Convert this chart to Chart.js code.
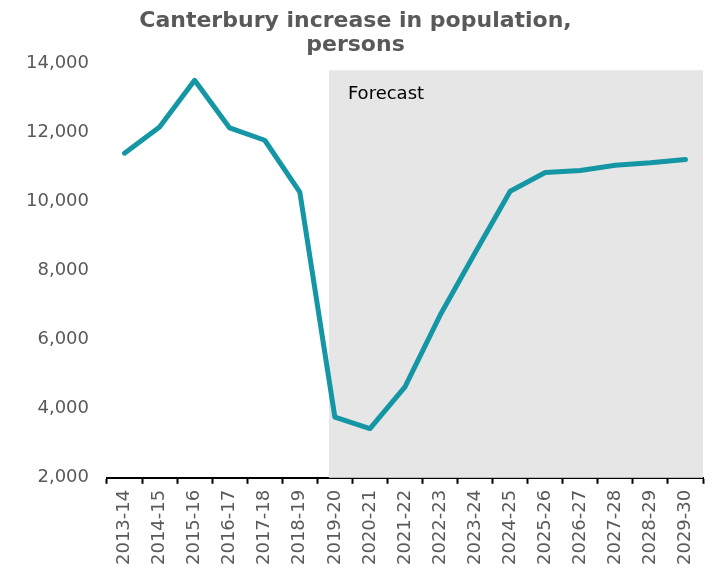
<!DOCTYPE html>
<html lang="en">

<head>
    <meta charset="UTF-8">
    <script src="https://cdn.jsdelivr.net/npm/chart.js"></script>
    <title>Canterbury population</title>
    <style>
        html, body { margin: 0; padding: 0; background: #fff; }
        #box { width: 717px; height: 571px; }
    </style>
</head>

<body>
    <div id="box"><canvas id="myChart"></canvas></div>
</body>

<script>
    // anos (categorias) e valores da serie
    const anos = ['2013-14', '2014-15', '2015-16', '2016-17', '2017-18', '2018-19', '2019-20', '2020-21',
        '2021-22', '2022-23', '2023-24', '2024-25', '2025-26', '2026-27', '2027-28', '2028-29', '2029-30'];
    const aumento = [11400, 12160, 13510, 12130, 11775, 10270, 3760, 3425,
        4630, 6705, 8515, 10300, 10840, 10900, 11050, 11120, 11215];
    const inicioPrevisao = '2019-20';
    const topoPrevisao = 13800;
    const eixoY = { min: 2000, max: 14000, passo: 2000 };

    const fonte = 'DejaVu Sans, Verdana, sans-serif';

    // faixa cinza "Forecast"
    const faixaPrevisao = {
        id: 'faixaPrevisao',
        beforeDatasetsDraw(chart) {
            const ctx = chart.ctx;
            const x = chart.scales.x, y = chart.scales.y;
            const i = anos.indexOf(inicioPrevisao);
            const passo = x.getPixelForValue(1) - x.getPixelForValue(0);
            const esq = x.getPixelForValue(i) - passo * 0.17;
            const topo = y.getPixelForValue(topoPrevisao);
            const dir = chart.chartArea.right;
            const base = chart.chartArea.bottom;
            ctx.save();
            ctx.fillStyle = '#e6e6e6';
            ctx.fillRect(esq, topo, dir - esq, base - topo);
            ctx.fillStyle = '#000';
            ctx.font = '18px ' + fonte;
            ctx.textBaseline = 'alphabetic';
            ctx.fillText('Forecast', esq + 19, topo + 29);
            ctx.restore();
        }
    };

    new Chart(document.getElementById('myChart'), {
        type: 'line',
        data: {
            labels: anos,
            datasets: [{
                label: 'Canterbury',
                data: aumento,
                borderColor: '#1496a4',
                borderWidth: 5,
                borderCapStyle: 'round',
                borderJoinStyle: 'round',
                pointRadius: 0,
                tension: 0,
                fill: false
            }]
        },
        options: {
            responsive: true,
            maintainAspectRatio: false,
            animation: false,
            layout: { padding: { left: 8, right: 14, top: 9, bottom: 0 } },
            plugins: {
                legend: { display: false },
                tooltip: { enabled: false },
                title: {
                    display: true,
                    text: ['Canterbury increase in population,', 'persons'],
                    color: '#595959',
                    font: { family: fonte, size: 22, weight: 'bold', lineHeight: 1.1 },
                    padding: { top: 0, bottom: 6 }
                }
            },
            scales: {
                x: {
                    offset: true,
                    grid: {
                        display: true,
                        offset: true,
                        drawOnChartArea: false,
                        drawTicks: true,
                        tickLength: 6,
                        tickWidth: 2,
                        tickColor: '#000'
                    },
                    border: { display: true, color: '#000', width: 2 },
                    ticks: {
                        color: '#595959',
                        font: { family: fonte, size: 18 },
                        minRotation: 90,
                        maxRotation: 90,
                        padding: 6,
                        autoSkip: false
                    }
                },
                y: {
                    min: eixoY.min,
                    max: eixoY.max,
                    grid: { display: false, drawTicks: false },
                    border: { display: false },
                    ticks: {
                        stepSize: eixoY.passo,
                        color: '#595959',
                        font: { family: fonte, size: 18 },
                        padding: 18,
                        callback: v => v.toLocaleString('en-US')
                    }
                }
            }
        },
        plugins: [faixaPrevisao]
    });
</script>

</html>
